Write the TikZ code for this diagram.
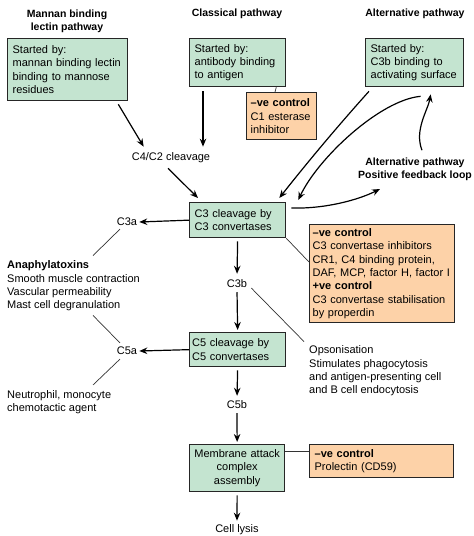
\documentclass[tikz,border=0pt]{standalone}
\usepackage{fontspec}
\setmainfont{Liberation Sans}
\usetikzlibrary{arrows.meta}
\definecolor{pathgreen}{RGB}{196,228,208}
\definecolor{ctrlorange}{RGB}{253,210,168}
\begin{document}
\begin{tikzpicture}[x=1pt,y=-1pt,
    every node/.style={font=\fontsize{11}{13.4}\selectfont, inner sep=2pt},
    stepbox/.style={draw=black!85, line width=1.3pt, anchor=north west,
        inner xsep=5pt, inner ysep=1pt, align=left},
    greenbox/.style={stepbox, fill=pathgreen},
    ctrlbox/.style={stepbox, fill=ctrlorange},
    title/.style={font=\fontsize{10.5}{13.4}\selectfont\bfseries, align=center},
    arr/.style={line width=1.2pt, -{Stealth[length=8pt,width=6.5pt]}},
    link/.style={line width=0.7pt, black!80}]
    \useasboundingbox (0,0) rectangle (474,536);
    % pathway titles
    \node[title] (tmbl) at (67,21) {Mannan binding\\lectin pathway};
    \node[title] (tcls) at (237,14) {Classical pathway};
    \node[title] (talt) at (415,14) {Alternative pathway};
    % boxes
    \node[greenbox, text width=110pt, minimum height=62pt] (mbl) at (7,38)
        {Started by:\\mannan binding lectin\\binding to mannose\\residues};
    \node[greenbox, text width=86pt, minimum height=48pt] (cls) at (189,38)
        {Started by:\\antibody binding\\to antigen};
    \node[greenbox, text width=88pt, minimum height=48pt] (alt) at (365,38)
        {Started by:\\C3b binding to\\activating surface};
    \node[ctrlbox, text width=62pt, minimum height=47pt, inner xsep=4pt] (c1ctrl) at (246,92)
        {\textbf{--ve control}\\C1 esterase\\inhibitor};
    \node[greenbox, text width=86pt, minimum height=35pt] (c3) at (189,202)
        {C3 cleavage by\\C3 convertases};
    \node[ctrlbox, text width=139pt, minimum height=98pt, inner xsep=3pt] (c3ctrl) at (309,224)
        {\textbf{--ve control}\\C3 convertase inhibitors\\CR1, C4 binding protein,\\DAF, MCP, factor H, factor I\\\textbf{+ve control}\\C3 convertase stabilisation\\by properdin};
    \node[greenbox, text width=91pt, minimum height=34pt, inner xsep=2.5pt] (c5) at (189,332)
        {C5 cleavage by\\C5 convertases};
    \node[greenbox, text width=91pt, minimum height=47pt, inner xsep=2pt, align=center] (mac) at (189,444)
        {Membrane attack\\complex\\assembly};
    \node[ctrlbox, text width=134pt, minimum height=33pt] (macctrl) at (309,444)
        {\textbf{--ve control}\\Prolectin (CD59)};
    % plain labels
    \node (c4c2) at (171,158) {C4/C2 cleavage};
    \node (c3a) at (127,222) {C3a};
    \node (c3b) at (237,284) {C3b};
    \node (c5a) at (127,351) {C5a};
    \node (c5b) at (237,405) {C5b};
    \node (lysis) at (237,530) {Cell lysis};
    \node[anchor=west, align=left, inner sep=0pt] (anaph) at (7,286)
        {\textbf{Anaphylatoxins}\\Smooth muscle contraction\\Vascular permeability\\Mast cell degranulation};
    \node[anchor=west, align=left, inner sep=0pt] (neutro) at (7,402)
        {Neutrophil, monocyte\\chemotactic agent};
    \node[anchor=west, align=left, inner sep=0pt] (opson) at (309,371)
        {Opsonisation\\Stimulates phagocytosis\\and antigen-presenting cell\\and B cell endocytosis};
    \node[title] (loop) at (415,169) {Alternative pathway\\Positive feedback loop};
    \coordinate (loopin) at (380,189);
    % main cascade
    \draw[arr] ([shift={(-10,3)}]mbl.south east) -- ([shift={(14,-4)}]c4c2.north west);
    \draw[arr] ([shift={(14,4)}]cls.south west) -- ([shift={(14,-4)}]cls.south west |- c4c2.north);
    \draw[arr] ([shift={(-3,3)}]c4c2.south) -- ([shift={(9,-4)}]c3.north west);
    \draw[arr] (c3.west) -- (c3a.east);
    \draw[arr, shorten <=3pt, shorten >=4pt] (c3.south) -- (c3b.north);
    \draw[arr, shorten <=2pt, shorten >=2pt] (c3b.south) -- (c5.north);
    \draw[arr] (c5.west) -- (c5a.east);
    \draw[arr, shorten <=3pt, shorten >=3pt] (c5.south) -- (c5b.north);
    \draw[arr, shorten <=2pt, shorten >=2pt] (c5b.south) -- (mac.north);
    \draw[arr, shorten <=3pt, shorten >=2pt] (mac.south) -- (lysis.north);
    % feedback loop
    \draw[arr] ([shift={(4,4)}]alt.south west) .. controls (345,118) and (314,154) .. ([shift={(-7,-4)}]c3.north east);
    \draw[arr] ([shift={(6,9)}]alt.south) .. controls (380,100) and (318,158) .. ([shift={(12,-2)}]c3.north east);
    \draw[arr] ([shift={(5,6)}]c3.north east) .. controls (325,209) and (358,200) .. (loopin);
    \draw[arr] ([shift={(7,-5)}]loop.north) .. controls (414,130) and (428,110) .. ([shift={(16,7)}]alt.south);
    % thin links
    \draw[link] ([shift={(-10,0)}]cls.south east) -- ([shift={(29,0)}]c1ctrl.north west);
    \draw[link] (c3.south east) -- ([shift={(0,38)}]c3ctrl.north west);
    \draw[link] ([shift={(-7,1)}]c3a.south) -- ([shift={(86,-5)}]anaph.north west);
    \draw[link] ([shift={(86,4)}]anaph.south west) -- ([shift={(-7,-2)}]c5a.north);
    \draw[link] ([shift={(-7,2)}]c5a.south) -- ([shift={(86,-5)}]neutro.north west);
    \draw[link] ([shift={(2,4)}]c3b.east) -- ([shift={(-5,-4)}]opson.north west);
    \draw[link] ([shift={(0,7)}]mac.north east) -- ([shift={(0,7)}]macctrl.north west);
\end{tikzpicture}
\end{document}
